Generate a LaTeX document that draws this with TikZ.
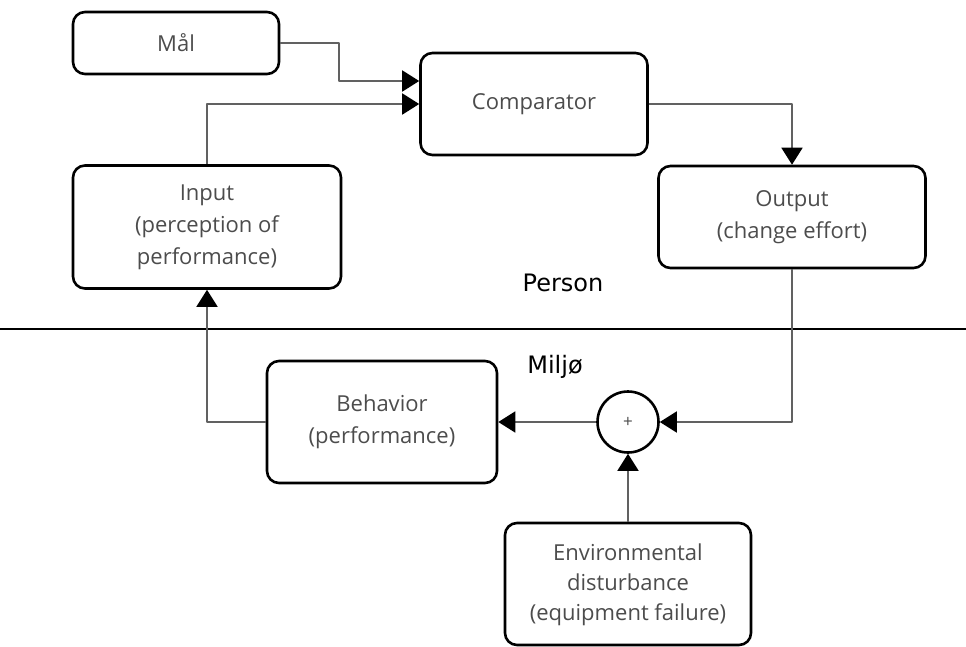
\documentclass[tikz,border=0pt]{standalone}
\usepackage{fontspec}
\setmainfont{Open Sans}
\newfontfamily\sidefont{DejaVu Sans}
\usetikzlibrary{arrows.meta,calc}
\tikzset{
  blok/.style={draw,line width=2.6pt,rounded corners=12pt,align=center,inner sep=0pt,
    text=black!70,font=\fontsize{22}{32}\selectfont},
  forb/.style={draw=black!62,line width=1.8pt,-{Triangle[length=17pt,width=21pt,color=black]}},
  side/.style={font=\sidefont\fontsize{24}{28}\selectfont}
}
\begin{document}
\begin{tikzpicture}[x=1pt,y=-1pt,line join=round]
\useasboundingbox (0,0) rectangle (966,646);
% personens boksar
\node[blok,minimum width=206pt,minimum height=62pt] (maal) at (176,43) {Mål};
\node[blok,minimum width=227pt,minimum height=102pt] (comp) at (534,104) {Comparator};
\node[blok,minimum width=267pt,minimum height=102pt] (output) at (792,217) {Output\\(change effort)};
\node[blok,minimum width=268pt,minimum height=123pt] (input) at (207,227) {Input\\(perception of\\performance)};
% skiljelinje
\draw[line width=1.3pt] (0,329) -- (966,329);
\node[side] (person) at (563,283) {Person};
\node[side] (miljo) at (555,367) {Miljø};
% miljøets boksar
\node[blok,minimum width=230pt,minimum height=122pt] (beh) at (382,422) {Behavior\\(performance)};
\node[draw,circle,line width=2.6pt,minimum size=61pt,inner sep=0pt,font=\fontsize{17}{17}\selectfont,text=black!70] (sum) at (628,422) {+};
\node[blok,minimum width=246pt,minimum height=122pt] (env) at (628,584) {\raisebox{-4pt}{\begin{tabular}{@{}c@{}}Environmental\\[-2pt]disturbance\\[-2pt](equipment failure)\end{tabular}}};
% piler
\coordinate (k1) at (339,81);
\draw[forb] (maal.east) -| (k1) -- (k1 -| comp.west);
\draw[forb] (input.north) |- (comp.west);
\draw[forb] (comp.east) -| (output.north);
\draw[forb] (output.south) |- (sum.east);
\draw[forb] (sum.west) -- (beh.east);
\draw[forb] (beh.west) -| (input.south);
\draw[forb] (env.north) -- (sum.south);
\end{tikzpicture}
\end{document}
